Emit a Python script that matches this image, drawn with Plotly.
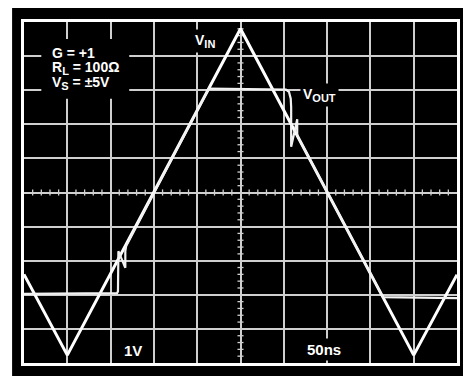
import plotly.graph_objects as go

# scope screen in divisions: x 0..10, y -5..5
vin_x = [0, 1, 5, 9, 10]
vin_y = [-2.4, -4.77, 4.8, -4.77, -2.41]

vout_x = [0, 2.1, 2.15, 2.17, 2.18, 2.34, 2.34, 2.36, 4.27, 6.05, 6.12, 6.16, 6.17, 6.17, 6.31, 6.31, 8.29, 10]
vout_y = [-2.97, -2.97, -2.95, -2.9, -1.72, -2.21, -1.72, -1.57, 3.05, 3.02, 2.95, 2.75, 2.5, 1.34, 2.15, 1.67, -3.07, -3.1]

labels = ["G = +1", "R<sub>L</sub> = 100Ω", "V<sub>S</sub> = ±5V"]
label_y = [4.1, 3.65, 3.21]

GRID = "#cfcfcf"
FONT = "Liberation Sans, Arial, sans-serif"


def sub(s, size):
    return '<sub><span style="font-size:%dpx">%s</span></sub>' % (size, s)


fig = go.Figure()

# minor ticks on the centre lines
tx, ty = [], []
for i in range(51):
    v = i * 0.2
    if i % 5 == 0:
        continue
    tx += [v, v, None]
    ty += [-0.09, 0.09, None]
for i in range(51):
    v = -5 + i * 0.2
    if i % 5 == 0:
        continue
    tx += [4.93, 5.07, None]
    ty += [v, v, None]
fig.add_trace(go.Scatter(x=tx, y=ty, mode="lines", line=dict(color=GRID, width=1.3),
                         hoverinfo="skip", showlegend=False))

fig.add_trace(go.Scatter(x=vin_x, y=vin_y, mode="lines", line=dict(color="white", width=3),
                         showlegend=False))
fig.add_trace(go.Scatter(x=vout_x, y=vout_y, mode="lines", line=dict(color="#f2f2f2", width=2.2),
                         showlegend=False))

# thin white strip on the left edge
fig.add_shape(type="rect", xref="paper", yref="paper", x0=-0.2, x1=-0.0275, y0=-0.2, y1=1.2,
              fillcolor="white", line_width=0, layer="below")
# box behind the conditions text
fig.add_shape(type="rect", x0=0.4, x1=2.43, y0=2.75, y1=4.5, fillcolor="black",
              line_width=0, layer="above")

for t, y in zip(labels, label_y):
    t = t.replace("<sub>L</sub>", sub("L", 11)).replace("<sub>S</sub>", sub("S", 11))
    fig.add_annotation(x=0.6, y=y, text="<b>" + t + "</b>", showarrow=False, xanchor="left",
                       yanchor="middle", font=dict(family=FONT, size=14, color="white"))

for t, x, y in [("V" + sub("IN", 11), 4.17, 4.45), ("V" + sub("OUT", 11), 6.82, 2.86),
                ("1V", 2.51, -4.62), ("50ns", 6.93, -4.6)]:
    fig.add_annotation(x=x, y=y, text="<b>" + t + "</b>", showarrow=False, bgcolor="black",
                       borderpad=2, font=dict(family=FONT, size=15 if "V<" not in t else 14,
                                              color="white"))

# page body adds an 8px margin, so the figure is sized to fit inside it
fig.update_layout(
    width=463, height=368,
    margin=dict(l=16, r=11, t=11, b=13),
    paper_bgcolor="black", plot_bgcolor="black",
    font=dict(family=FONT, color="white"),
)
fig.update_xaxes(range=[0, 10], dtick=1, showgrid=True, gridcolor=GRID, gridwidth=1.5,
                 showticklabels=False, zeroline=False, showline=True, mirror=True,
                 linecolor="white", linewidth=2.5, ticks="")
fig.update_yaxes(range=[-5, 5], dtick=1, showgrid=True, gridcolor=GRID, gridwidth=1.5,
                 showticklabels=False, zeroline=False, showline=True, mirror=True,
                 linecolor="white", linewidth=2.5, ticks="")

fig.write_html("out.html")
